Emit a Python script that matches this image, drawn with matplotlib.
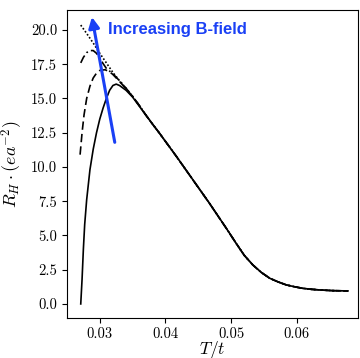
import numpy as np
import matplotlib
matplotlib.use("Agg")
import matplotlib.pyplot as plt

plt.rcParams["font.family"] = "serif"
plt.rcParams["font.serif"] = ["cmr10"]
plt.rcParams["mathtext.fontset"] = "cm"
plt.rcParams["axes.formatter.use_mathtext"] = True

# common high-temperature tail (all curves coincide here)
T_tail = [0.037, 0.038, 0.0391, 0.0417, 0.0442, 0.0467, 0.0493, 0.0508, 0.0520,
          0.0533, 0.0546, 0.0559, 0.0572, 0.0584, 0.0597, 0.0609, 0.0622, 0.0635,
          0.0655, 0.0678]
R_tail = [13.8, 13.15, 12.46, 10.75, 9.05, 7.35, 5.5, 4.4, 3.55,
          2.85, 2.3, 1.87, 1.6, 1.39, 1.25, 1.14, 1.07, 1.02,
          0.97, 0.95]

# low-temperature parts, one per field value
T_b0 = [0.0271, 0.0273, 0.0275, 0.0277, 0.0280, 0.0285, 0.0290, 0.0295, 0.0300,
        0.0305, 0.0310, 0.0315, 0.0320, 0.0325, 0.0330, 0.0340, 0.0350, 0.0360]
R_b0 = [0.0, 1.8, 4.0, 5.8, 7.6, 9.8, 11.3, 12.5, 13.5,
        14.3, 15.0, 15.6, 15.95, 16.05, 15.95, 15.6, 15.1, 14.45]

T_b1 = [0.0270, 0.0273, 0.0276, 0.0280, 0.0285, 0.0290, 0.0295, 0.0300, 0.0308,
        0.0315, 0.0320, 0.0330, 0.0340, 0.0350, 0.0360]
R_b1 = [10.9, 12.5, 13.8, 15.0, 15.9, 16.5, 16.85, 17.05, 17.1,
        16.95, 16.75, 16.25, 15.7, 15.15, 14.5]

T_b2 = [0.0271, 0.0275, 0.0280, 0.0285, 0.0290, 0.0295, 0.0300, 0.0305, 0.0310,
        0.0320, 0.0330, 0.0340, 0.0350, 0.0360]
R_b2 = [17.6, 18.0, 18.35, 18.5, 18.5, 18.3, 17.95, 17.55, 17.2,
        16.8, 16.3, 15.75, 15.15, 14.5]

T_b3 = [0.0271, 0.0280, 0.0290, 0.0300, 0.0310, 0.0320, 0.0330, 0.0340, 0.0350, 0.0360]
R_b3 = [20.36, 19.75, 19.05, 18.3, 17.6, 16.9, 16.3, 15.75, 15.15, 14.5]

blue = "#1a40f5"

fig = plt.figure(figsize=(3.6, 3.58), dpi=100)
ax = fig.add_axes([0.186, 0.112, 0.808, 0.86])

styles = ["-", (0, (5, 2.5)), (0, (5, 2, 1, 2)), (0, (1, 1.2))]
for T, R, ls in zip([T_b0, T_b1, T_b2, T_b3], [R_b0, R_b1, R_b2, R_b3], styles):
    ax.plot(T + T_tail, R + R_tail, color="black", lw=1.2, ls=ls)

ax.annotate("", xy=(0.0288, 20.95), xytext=(0.03228, 11.8),
            arrowprops=dict(arrowstyle="-|>", color=blue, lw=2.2, mutation_scale=16,
                            shrinkA=0, shrinkB=0))
ax.text(0.0312, 20.07, "Increasing B-field", color=blue, fontsize=12,
        fontweight="bold", family="Liberation Sans", ha="left", va="center")

ax.set_xlim(0.0250, 0.0693)
ax.set_ylim(-1.02, 21.46)
ax.set_xticks([0.03, 0.04, 0.05, 0.06])
ax.set_yticks(np.arange(0, 20.1, 2.5))
ax.set_xticklabels(["0.03", "0.04", "0.05", "0.06"])
ax.set_yticklabels(["0.0", "2.5", "5.0", "7.5", "10.0", "12.5", "15.0", "17.5", "20.0"])
ax.tick_params(labelsize=10.5, length=3.5)
ax.set_xlabel(r"$T/t$", fontsize=12.5, labelpad=-1.5)
ax.set_ylabel(r"$R_H \cdot (ea^{-2})$", fontsize=13)

fig.savefig("out.png", dpi=100)
